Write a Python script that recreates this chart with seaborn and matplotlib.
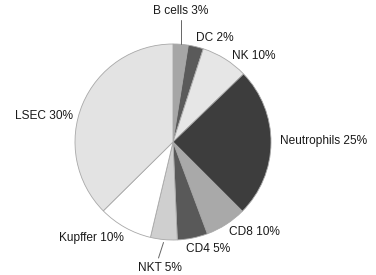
import numpy as np
import matplotlib
matplotlib.use("Agg")
import matplotlib.pyplot as plt
import seaborn as sns

cells = ["B cells", "DC", "NK", "Neutrophils", "CD8", "CD4", "NKT", "Kupffer", "LSEC"]
label_pct = [3, 2, 10, 25, 10, 5, 5, 10, 30]
shares = [2.5, 2.5, 7.8, 24.7, 6.8, 5.0, 4.4, 8.9, 37.4]
colors = ["#a6a6a6", "#5a5a5a", "#e6e6e6", "#3d3d3d", "#a9a9a9",
          "#595959", "#cfcfcf", "#ffffff", "#e3e3e3"]

sns.set_theme(style="white")
plt.rcParams["font.family"] = ["Liberation Sans", "DejaVu Sans"]

W, H = 376, 275
fig = plt.figure(figsize=(W / 100, H / 100), dpi=100)
ax = fig.add_axes([0, 0, 1, 1])

cx, cy, r = 173, H - 142, 98
wedges, _ = ax.pie(shares, colors=colors, startangle=90, counterclock=False,
                   center=(cx, cy), radius=r,
                   wedgeprops=dict(edgecolor="#a8a8a8", linewidth=0.6))
ax.set_xlim(0, W)
ax.set_ylim(0, H)
ax.set_aspect("equal")
ax.axis("off")

# label text positions (image pixel coords, centre of text)
text_pos = {
    "B cells": (181, 11),
    "DC": (215, 38),
    "NK": (254, 56),
    "Neutrophils": (324, 141),
    "CD8": (254, 232),
    "CD4": (208, 249),
    "NKT": (160, 268),
    "Kupffer": (91, 238),
    "LSEC": (44, 116),
}
fs = 8.6
for name, pct in zip(cells, label_pct):
    tx, ty = text_pos[name]
    ax.text(tx, H - ty, f"{name} {pct}%", ha="center", va="center",
            fontsize=fs, color="#1a1a1a")

# leader lines for small slices
def edge_point(w, frac):
    ang = np.deg2rad((w.theta1 + w.theta2) / 2)
    return cx + r * frac * np.cos(ang), cy + r * frac * np.sin(ang)

wb = wedges[cells.index("B cells")]
x0, y0 = edge_point(wb, 1.0)
ax.plot([x0, x0], [y0, H - 20], color="#666666", lw=0.7)
wn = wedges[cells.index("NKT")]
x1, y1 = edge_point(wn, 1.03)
ax.plot([x1, x1 - 5], [y1, H - 258], color="#666666", lw=0.7)

fig.savefig("out.png", dpi=100, facecolor="white")
